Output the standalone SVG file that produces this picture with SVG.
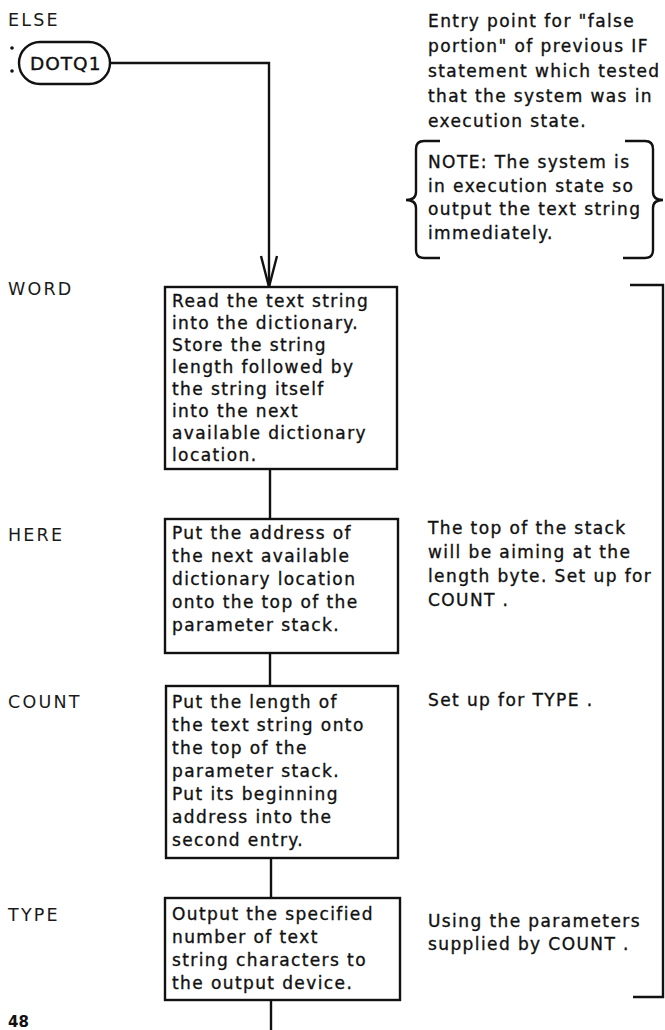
<svg xmlns="http://www.w3.org/2000/svg" width="665" height="1030" viewBox="0 0 665 1030">
<style>
  text { font-family: "DejaVu Sans", "Liberation Sans", sans-serif; fill: #111; }
  .t { font-size: 17px; letter-spacing: 1.4px; stroke: #111; stroke-width: 0.35px; }
  .lbl { font-size: 17.5px; letter-spacing: 2.2px; fill: #1a1a1a; }
  .box { fill: #fff; stroke: #111; stroke-width: 2.4; }
  .ln { fill: none; stroke: #111; stroke-width: 2.4; stroke-linejoin: miter; }
</style>
<rect width="665" height="1030" fill="#fff"/>

<g id="labels">
  <text class="lbl" x="8" y="26">ELSE</text>
  <circle cx="12" cy="48" r="1.8" fill="#111"/>
  <circle cx="12" cy="71" r="1.8" fill="#111"/>
  <text class="lbl" x="8" y="295">WORD</text>
  <text class="lbl" x="8" y="541">HERE</text>
  <text class="lbl" x="8" y="708">COUNT</text>
  <text class="lbl" x="8" y="921">TYPE</text>
  <text x="8" y="1027" style="font-size:15px;font-weight:bold;">48</text>
</g>

<g id="connectors">
  <polyline class="ln" points="110,63 269,63 269,287"/>
  <polyline class="ln" points="261,256 269,287 277,256"/>
  <line class="ln" x1="270" y1="469" x2="270" y2="519"/>
  <line class="ln" x1="270" y1="653" x2="270" y2="686"/>
  <line class="ln" x1="271" y1="858" x2="271" y2="898"/>
  <line class="ln" x1="271" y1="1000" x2="271" y2="1030"/>
</g>

<g id="node-dotq1">
  <rect class="box" x="19" y="42" width="91" height="42" rx="21" ry="21"/>
  <text x="30" y="70" style="font-size:18.5px;letter-spacing:1px;stroke:#111;stroke-width:0.4px;">DOTQ1</text>
</g>

<g id="node-word">
  <rect class="box" x="165" y="287" width="232" height="182"/>
  <text class="t" x="172" y="307">Read the text string</text>
  <text class="t" x="172" y="329">into the dictionary.</text>
  <text class="t" x="172" y="351">Store the string</text>
  <text class="t" x="172" y="373">length followed by</text>
  <text class="t" x="172" y="395">the string itself</text>
  <text class="t" x="172" y="417">into the next</text>
  <text class="t" x="172" y="439">available dictionary</text>
  <text class="t" x="172" y="461">location.</text>
</g>

<g id="node-here">
  <rect class="box" x="165" y="519" width="233" height="134"/>
  <text class="t" x="172" y="539">Put the address of</text>
  <text class="t" x="172" y="562">the next available</text>
  <text class="t" x="172" y="585">dictionary location</text>
  <text class="t" x="172" y="608">onto the top of the</text>
  <text class="t" x="172" y="631">parameter stack.</text>
</g>

<g id="node-count">
  <rect class="box" x="166" y="686" width="232" height="172"/>
  <text class="t" x="172" y="708">Put the length of</text>
  <text class="t" x="172" y="731">the text string onto</text>
  <text class="t" x="172" y="754">the top of the</text>
  <text class="t" x="172" y="777">parameter stack.</text>
  <text class="t" x="172" y="800">Put its beginning</text>
  <text class="t" x="172" y="823">address into the</text>
  <text class="t" x="172" y="846">second entry.</text>
</g>

<g id="node-type">
  <rect class="box" x="165" y="898" width="235" height="102"/>
  <text class="t" x="172" y="920">Output the specified</text>
  <text class="t" x="172" y="943">number of text</text>
  <text class="t" x="172" y="966">string characters to</text>
  <text class="t" x="172" y="989">the output device.</text>
</g>

<g id="comment-entry">
  <text class="t" x="428" y="27">Entry point for "false</text>
  <text class="t" x="428" y="52">portion" of previous IF</text>
  <text class="t" x="428" y="77">statement which tested</text>
  <text class="t" x="428" y="102">that the system was in</text>
  <text class="t" x="428" y="127">execution state.</text>
</g>

<g id="note">
  <path class="ln" d="M440,141 L424,141 Q416,141 416,149 L416,192 Q416,200 406,200 Q416,200 416,208 L416,250 Q416,258 424,258 L440,258"/>
  <path class="ln" d="M625,141 L645,141 Q653,141 653,149 L653,192 Q653,200 663,200 Q653,200 653,208 L653,250 Q653,258 645,258 L623,258"/>
  <text class="t" x="428" y="168">NOTE: The system is</text>
  <text class="t" x="428" y="192">in execution state so</text>
  <text class="t" x="428" y="215">output the text string</text>
  <text class="t" x="428" y="239">immediately.</text>
</g>

<g id="comment-here">
  <text class="t" x="428" y="534">The top of the stack</text>
  <text class="t" x="428" y="558">will be aiming at the</text>
  <text class="t" x="428" y="582">length byte. Set up for</text>
  <text class="t" x="428" y="606">COUNT .</text>
</g>

<g id="comment-count">
  <text class="t" x="428" y="706">Set up for TYPE .</text>
</g>

<g id="comment-type">
  <text class="t" x="428" y="927">Using the parameters</text>
  <text class="t" x="428" y="950">supplied by COUNT .</text>
</g>

<g id="bracket">
  <polyline class="ln" points="630,285 663,285 663,997 633,997"/>
</g>
</svg>
